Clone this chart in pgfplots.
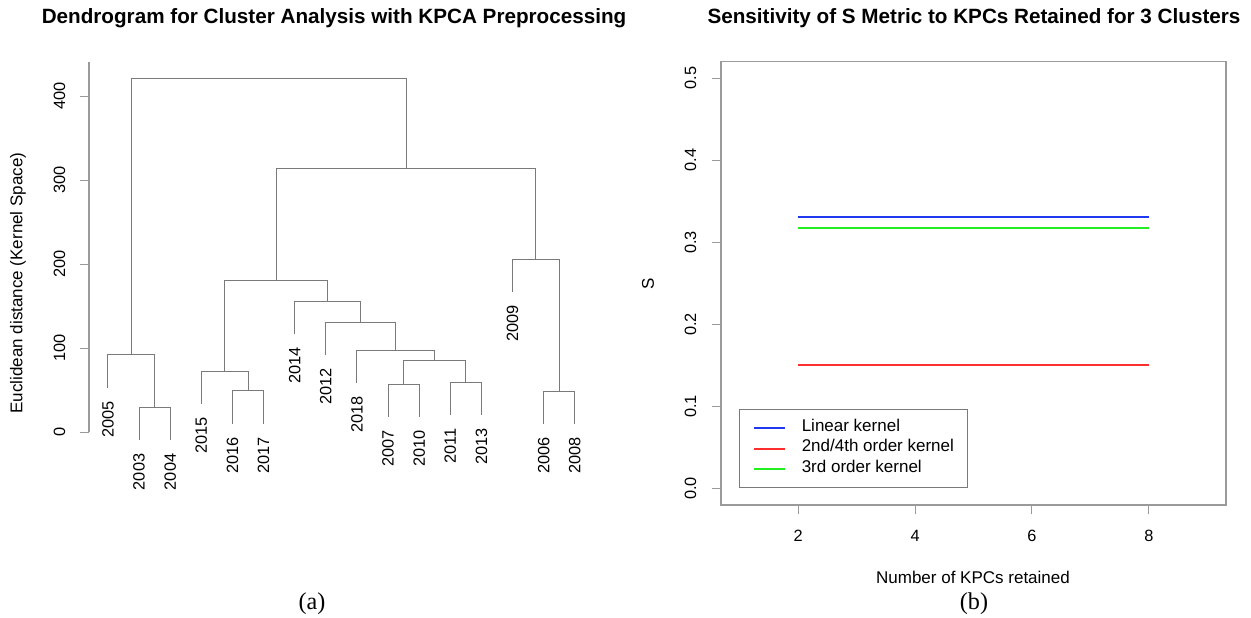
\documentclass[border=0pt]{standalone}
\usepackage{pgfplots}
\pgfplotsset{compat=1.18}
\usepackage{fontspec}
\setmainfont{Liberation Sans}
\newfontfamily\capfont{Liberation Serif}

\definecolor{dendgray}{HTML}{7A7A7A}
\definecolor{boxgray}{HTML}{9A9A9A}
\definecolor{rblue}{HTML}{2038F0}
\definecolor{rred}{HTML}{FF2E2E}
\definecolor{rgreen}{HTML}{22EE22}

\pgfplotsset{
  rstyle/.style={
    scale only axis, clip=false,
    tick align=outside, major tick length=5.6pt,
    tick style={boxgray, line width=0.6pt},
    axis line style={boxgray, line width=0.7pt},
    /pgf/number format/assume math mode=true,
    tick label style={font=\fontsize{9.8}{11}\selectfont, inner sep=0pt},
    yticklabel style={rotate=90, anchor=south},
    label style={font=\fontsize{10.2}{12}\selectfont},
    every axis title shift=0pt,
    title style={font=\fontsize{12.4}{14}\selectfont\bfseries, anchor=center},
  },
  dend/.style={dendgray, line width=0.6pt, mark=none},
}

\begin{document}
\begin{tikzpicture}
\path[use as bounding box] (0,0) rectangle (750.6pt,-370.2pt);

% (a) dendrogram
\begin{axis}[rstyle,
  at={(53.4pt,-259.2pt)}, anchor=south west,
  width=310.2pt, height=221.76pt,
  xmin=0.39, xmax=17, ymin=0, ymax=440,
  axis x line=none, axis y line*=left,
  ytick={0,100,200,300,400},
  yticklabel shift=8.5pt,
  ylabel={Euclidean distance (Kernel Space)},
  ylabel style={at={(rel axis cs:-0.1373,0.403)}, anchor=center},
  title={Dendrogram for Cluster Analysis with KPCA Preprocessing},
  title style={at={(rel axis cs:0.474,1.1201)}},
]
% merges: left leg, top, right leg
\addplot[dend] coordinates {(2,-10) (2,29) (3,29) (3,-10)};
\addplot[dend] coordinates {(1,52.7) (1,91.7) (2.5,91.7) (2.5,29)};
\addplot[dend] coordinates {(5,10) (5,49) (6,49) (6,10)};
\addplot[dend] coordinates {(4,33) (4,72) (5.5,72) (5.5,49)};
\addplot[dend] coordinates {(10,18) (10,57) (11,57) (11,18)};
\addplot[dend] coordinates {(12,20) (12,59) (13,59) (13,20)};
\addplot[dend] coordinates {(10.5,57) (10.5,85.7) (12.5,85.7) (12.5,59)};
\addplot[dend] coordinates {(9,58.2) (9,97.2) (11.5,97.2) (11.5,85.7)};
\addplot[dend] coordinates {(8,91.6) (8,130.6) (10.25,130.6) (10.25,97.2)};
\addplot[dend] coordinates {(7,116.5) (7,155.5) (9.125,155.5) (9.125,130.6)};
\addplot[dend] coordinates {(4.75,72) (4.75,180) (8.0625,180) (8.0625,155.5)};
\addplot[dend] coordinates {(15,9.4) (15,48.4) (16,48.4) (16,9.4)};
\addplot[dend] coordinates {(14,166.6) (14,205.6) (15.5,205.6) (15.5,48.4)};
\addplot[dend] coordinates {(6.40625,180) (6.40625,314) (14.75,314) (14.75,205.6)};
\addplot[dend] coordinates {(1.75,91.7) (1.75,421) (10.578,421) (10.578,314)};
% leaf labels
\addplot[only marks, mark=none, nodes near coords, point meta=explicit symbolic,
  nodes near coords style={rotate=90, anchor=east, inner sep=0pt,
    font=\fontsize{9.8}{11}\selectfont}]
  table[meta=lab] {
x y lab
1 37.2 2005
2 -25.5 2003
3 -25.5 2004
4 17.5 2015
5 -5.5 2016
6 -5.5 2017
7 101 2014
8 76.1 2012
9 42.7 2018
10 2.5 2007
11 2.5 2010
12 4.5 2011
13 4.5 2013
14 151.1 2009
15 -6.1 2006
16 -6.1 2008
};
\end{axis}

% (b) sensitivity
\begin{axis}[rstyle,
  at={(432.6pt,-303pt)}, anchor=south west,
  width=303pt, height=266pt,
  xmin=0.68, xmax=9.32, ymin=-0.02, ymax=0.52,
  xtick={2,4,6,8}, ytick={0,0.1,0.2,0.3,0.4,0.5},
  xtick pos=bottom, ytick pos=left,
  xticklabel shift=9.5pt, yticklabel shift=9pt,
  yticklabel style={/pgf/number format/.cd, fixed, fixed zerofill, precision=1},
  xlabel={Number of KPCs retained},
  xlabel style={at={(rel axis cs:0.499,-0.1624)}, anchor=center},
  ylabel={S},
  ylabel style={at={(rel axis cs:-0.1446,0.4985)}, anchor=center},
  title={Sensitivity of S Metric to KPCs Retained for 3 Clusters},
  title style={at={(rel axis cs:0.501,1.0986)}},
  legend style={at={(rel axis cs:0.0362,0.0377)}, anchor=south west,
    draw=dendgray, line width=0.6pt, inner xsep=8pt, inner ysep=5pt,
    row sep=0pt, font=\fontsize{10.2}{12}\selectfont,
    nodes={inner sep=0pt, text height=8pt, text depth=4.3pt},
    /tikz/every odd column/.append style={column sep=9.4pt}},
  legend cell align=left,
  legend image code/.code={
    \draw[#1, line width=1.2pt] (0pt,0pt) -- (18.6pt,0pt);},
]
\addplot[rblue, line width=1.2pt] coordinates {(2,0.3308) (3,0.3308) (4,0.3308) (5,0.3308) (6,0.3308) (7,0.3308) (8,0.3308)};
\addlegendentry{Linear kernel}
\addplot[rred, line width=1.2pt] coordinates {(2,0.1506) (3,0.1506) (4,0.1506) (5,0.1506) (6,0.1506) (7,0.1506) (8,0.1506)};
\addlegendentry{2nd/4th order kernel}
\addplot[rgreen, line width=1.2pt] coordinates {(2,0.3174) (3,0.3174) (4,0.3174) (5,0.3174) (6,0.3174) (7,0.3174) (8,0.3174)};
\addlegendentry{3rd order kernel}
\end{axis}

\node[font=\capfont\fontsize{14.5}{16}\selectfont] at (187.2pt,-362.4pt) {(a)};
\node[font=\capfont\fontsize{14.5}{16}\selectfont] at (584.4pt,-362.4pt) {(b)};
\end{tikzpicture}
\end{document}
